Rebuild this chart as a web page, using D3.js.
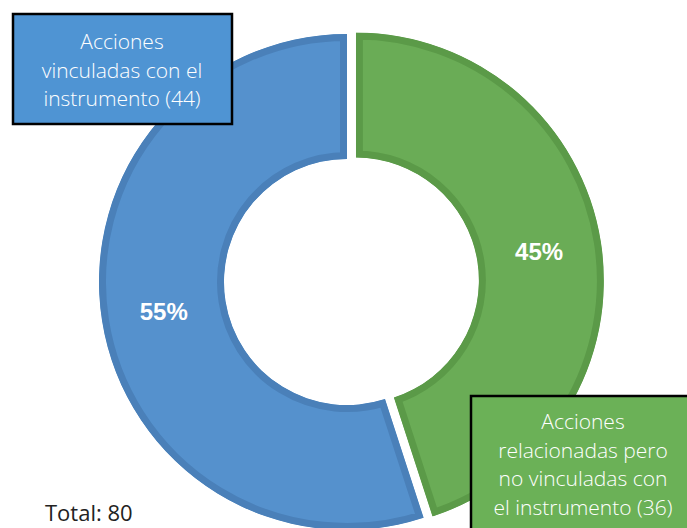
<!DOCTYPE html>
<html>
<head>
<meta charset="utf-8">
<script src="https://cdn.jsdelivr.net/npm/d3@7"></script>
<style>
  body { margin: 0; background: #fff; }
  svg { display: block; }
</style>
</head>
<body>
<div id="donut"></div>
<script>
// data
let categories = ['Acciones relacionadas pero no vinculadas con el instrumento', 'Acciones vinculadas con el instrumento'];
let values = [36, 44];
let boxLines = [
  ['Acciones', 'relacionadas pero', 'no vinculadas con', 'el instrumento (36)'],
  ['Acciones', 'vinculadas con el', 'instrumento (44)']
];
let totalLabel = 'Total: 80';

let width = 687, height = 528;
let cx = 347, cy = 282;
let outerR = 248, innerR = 123;
let explode = [9, 0];

let fill = ['#6aac56', '#5591cd'];
let edge = ['#5b9a48', '#4a80b9'];
let boxFill = ['#6bb157', '#4f94d3'];

let total = d3.sum(values);
let data = categories.map((c, i) => ({ name: c, value: values[i], i: i }));

let svg = d3.select('#donut').append('svg')
  .attr('width', width)
  .attr('height', height);

let pie = d3.pie()
  .sort(null)
  .value(d => d.value);

let arc = d3.arc()
  .outerRadius(outerR)
  .innerRadius(innerR);

let chart = svg.append('g')
  .attr('transform', `translate(${cx}, ${cy})`);

let defs = svg.append('defs');

let slices = chart.selectAll('.arc')
  .data(pie(data))
  .enter().append('g')
    .attr('class', 'arc')
    .attr('transform', d => {
      let mid = (d.startAngle + d.endAngle) / 2;
      let off = explode[d.data.i];
      return `translate(${Math.sin(mid) * off}, ${-Math.cos(mid) * off})`;
    });

// clip so the darker stroke sits inside the slice
slices.each(function(d, i) {
  defs.append('clipPath')
    .attr('id', `clip_${i}`)
    .append('path')
    .attr('d', arc(d));
});

slices.append('path')
  .attr('d', arc)
  .attr('clip-path', (d, i) => `url(#clip_${i})`)
  .style('fill', d => fill[d.data.i])
  .style('stroke', d => edge[d.data.i])
  .style('stroke-width', 14)
  .style('stroke-linejoin', 'miter');

slices.append('text')
  .attr('transform', d => `translate(${arc.centroid(d)})`)
  .attr('text-anchor', 'middle')
  .attr('dy', '0.36em')
  .style('font-family', '"Liberation Sans", Arial, sans-serif')
  .style('font-weight', 'bold')
  .style('font-size', '24px')
  .style('fill', '#fff')
  .text(d => d3.format('.0%')(d.value / total));

// label boxes
let boxes = [
  { x: 471, y: 396, w: 222, h: 140, lines: boxLines[0], i: 0, top: 422 },
  { x: 13, y: 14, w: 219, h: 110, lines: boxLines[1], i: 1, top: 42 }
];

let box = svg.selectAll('.box')
  .data(boxes)
  .enter().append('g')
    .attr('class', 'box');

box.append('rect')
  .attr('x', d => d.x)
  .attr('y', d => d.y)
  .attr('width', d => d.w)
  .attr('height', d => d.h)
  .style('fill', d => boxFill[d.i])
  .style('stroke', '#000')
  .style('stroke-width', 2.5);

box.each(function(d) {
  let cxBox = d.i === 0 ? 583 : 122;
  d3.select(this).selectAll('text')
    .data(d.lines)
    .enter().append('text')
      .attr('x', cxBox)
      .attr('y', (t, k) => d.top + k * 28.5)
      .attr('dy', '0.35em')
      .attr('text-anchor', 'middle')
      .style('font-family', '"Open Sans", sans-serif')
      .style('font-weight', 300)
      .style('font-size', '21px')
      .style('fill', '#fff')
      .text(t => t);
});

svg.append('text')
  .attr('x', 45)
  .attr('y', 521)
  .style('font-family', '"Open Sans", sans-serif')
  .style('font-size', '22px')
  .style('fill', '#222')
  .text(totalLabel);
</script>
</body>
</html>
